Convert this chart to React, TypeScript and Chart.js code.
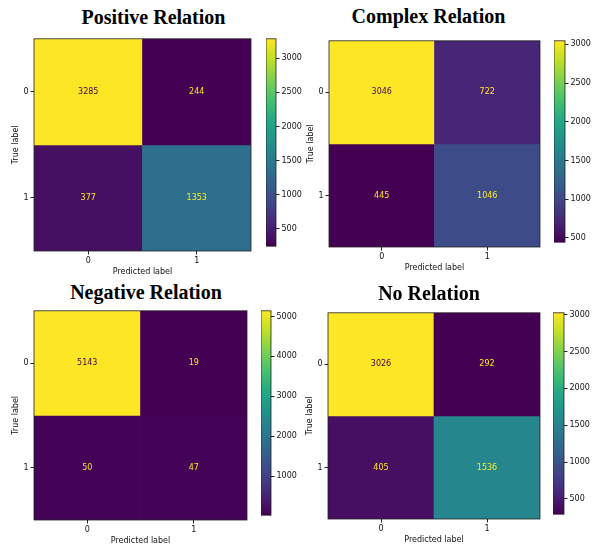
import React, { useEffect, useRef } from 'react';
import { Chart, registerables } from 'chart.js';

Chart.register(...registerables);

// ---------- data ----------
const PRED_LABELS = ['0', '1'];
const TRUE_LABELS = ['0', '1'];
const TITLES = ['Positive Relation', 'Complex Relation', 'Negative Relation', 'No Relation'];
const POSITIVE = [[3285, 244], [377, 1353]];
const COMPLEX = [[3046, 722], [445, 1046]];
const NEGATIVE = [[5143, 19], [50, 47]];
const NO_RELATION = [[3026, 292], [405, 1536]];
const TICKS_POSITIVE = [500, 1000, 1500, 2000, 2500, 3000];
const TICKS_COMPLEX = [500, 1000, 1500, 2000, 2500, 3000];
const TICKS_NEGATIVE = [1000, 2000, 3000, 4000, 5000];
const TICKS_NO_RELATION = [500, 1000, 1500, 2000, 2500, 3000];

// ---------- styles / layout ----------
const VIRIDIS = ['#440154', '#482475', '#414487', '#355f8d', '#2a788e', '#21918c', '#22a884', '#44bf70', '#7ad151', '#bddf26', '#fde725'];
const FONT = { family: 'DejaVu Sans', size: 8 };
const INK = '#111';
const LAYOUT = [
  { L: 34, R: 251, T: 34, B: 251, cbL: 266, cbR: 276, titleX: 153.5, titleBase: 24 },
  { L: 329, R: 540, T: 36, B: 247, cbL: 554, cbR: 565, titleX: 428.5, titleBase: 23 },
  { L: 34, R: 247, T: 306, B: 520, cbL: 261, cbR: 271, titleX: 146, titleBase: 299 },
  { L: 328, R: 540, T: 308, B: 519, cbL: 553, cbR: 564, titleX: 429, titleBase: 300 },
];
const Y_AXIS_W = 30;
const X_AXIS_H = 26;
const CB_AXIS_W = 40;

function hexToRgb(h: string) {
  return [parseInt(h.slice(1, 3), 16), parseInt(h.slice(3, 5), 16), parseInt(h.slice(5, 7), 16)];
}
function viridis(t: number) {
  const tt = Math.max(0, Math.min(1, t)) * (VIRIDIS.length - 1);
  const i = Math.min(Math.floor(tt), VIRIDIS.length - 2);
  const f = tt - i;
  const a = hexToRgb(VIRIDIS[i]);
  const b = hexToRgb(VIRIDIS[i + 1]);
  const c = a.map((v, k) => Math.round(v + (b[k] - v) * f));
  return `rgb(${c[0]},${c[1]},${c[2]})`;
}

const framePlugin = {
  id: 'frame',
  afterDatasetsDraw(chart: any) {
    const { ctx, chartArea: a } = chart;
    ctx.save();
    ctx.strokeStyle = '#222';
    ctx.lineWidth = 0.8;
    ctx.strokeRect(a.left, a.top, a.right - a.left, a.bottom - a.top);
    ctx.restore();
  },
};

function Panel({ matrix, ticks, title, lay }: any) {
  const mRef = useRef<HTMLCanvasElement>(null);
  const cRef = useRef<HTMLCanvasElement>(null);
  const flat = matrix.flat();
  const min = Math.min(...flat);
  const max = Math.max(...flat);

  useEffect(() => {
    const thresh = (min + max) / 2;
    const cellText = {
      id: 'cellText',
      afterDatasetsDraw(chart: any) {
        const { ctx } = chart;
        const xs = chart.scales.x;
        const ys = chart.scales.y;
        ctx.save();
        ctx.font = `${FONT.size}px "${FONT.family}"`;
        ctx.textAlign = 'center';
        ctx.textBaseline = 'middle';
        matrix.forEach((row: number[], i: number) => {
          row.forEach((v: number, j: number) => {
            ctx.fillStyle = v > thresh ? VIRIDIS[0] : VIRIDIS[VIRIDIS.length - 1];
            ctx.fillText(String(v), xs.getPixelForValue(j), ys.getPixelForValue(i + 0.5));
          });
        });
        ctx.restore();
      },
    };
    const m = new Chart(mRef.current!, {
      type: 'bar',
      data: {
        labels: PRED_LABELS,
        datasets: matrix.map((row: number[], i: number) => ({
          data: row.map(() => [i, i + 1]),
          backgroundColor: row.map((v) => viridis((v - min) / (max - min))),
          borderWidth: 0,
          grouped: false,
          barPercentage: 1,
          categoryPercentage: 1,
        })),
      },
      options: {
        animation: false,
        responsive: false,
        events: [],
        layout: { padding: { top: 2, right: 2, left: 0, bottom: 0 } },
        plugins: { legend: { display: false }, tooltip: { enabled: false }, title: { display: false } },
        scales: {
          x: {
            type: 'category',
            offset: true,
            grid: { offset: false, drawOnChartArea: false, drawTicks: true, tickLength: 3.5, color: '#222' },
            border: { display: false },
            ticks: { font: FONT, color: INK, padding: 2, maxRotation: 0 },
            title: { display: true, text: 'Predicted label', font: FONT, color: INK, padding: { top: 0, bottom: 0.7 } },
            afterFit: (s: any) => { s.height = X_AXIS_H; },
          },
          y: {
            type: 'linear',
            min: 0,
            max: TRUE_LABELS.length,
            reverse: true,
            afterBuildTicks: (s: any) => { s.ticks = TRUE_LABELS.map((_, i) => ({ value: i + 0.5 })); },
            grid: { drawOnChartArea: false, drawTicks: true, tickLength: 3.5, color: '#222' },
            border: { display: false },
            ticks: { font: FONT, color: INK, padding: 2, callback: (_v: any, idx: number) => TRUE_LABELS[idx] },
            title: { display: true, text: 'True label', font: FONT, color: INK, padding: { top: 7.2, bottom: 0 } },
            afterFit: (s: any) => { s.width = Y_AXIS_W; },
          },
        },
      } as any,
      plugins: [cellText, framePlugin],
    });

    const c = new Chart(cRef.current!, {
      type: 'bar',
      data: {
        labels: [''],
        datasets: [{
          data: [[min, max]],
          backgroundColor: (ctx: any) => {
            const chart = ctx.chart;
            const a = chart.chartArea;
            if (!a) return VIRIDIS[0];
            const g = chart.ctx.createLinearGradient(0, a.bottom, 0, a.top);
            VIRIDIS.forEach((col, k) => g.addColorStop(k / (VIRIDIS.length - 1), col));
            return g;
          },
          borderWidth: 0,
          barPercentage: 1,
          categoryPercentage: 1,
        }],
      },
      options: {
        animation: false,
        responsive: false,
        events: [],
        layout: { padding: { top: 2, bottom: 2, left: 0, right: 0 } },
        plugins: { legend: { display: false }, tooltip: { enabled: false } },
        scales: {
          x: { display: false },
          y: {
            position: 'right',
            min,
            max,
            afterBuildTicks: (s: any) => { s.ticks = ticks.map((v: number) => ({ value: v })); },
            grid: { drawOnChartArea: false, drawTicks: true, tickLength: 3.5, color: '#222' },
            border: { display: false },
            ticks: { font: FONT, color: INK, padding: 2, callback: (v: any) => String(v) },
            afterFit: (s: any) => { s.width = CB_AXIS_W; },
          },
        },
      } as any,
      plugins: [framePlugin],
    });
    return () => { m.destroy(); c.destroy(); };
  }, []);

  const mw = lay.R - lay.L + Y_AXIS_W + 2;
  const mh = lay.B - lay.T + 2 + X_AXIS_H;
  const cw = lay.cbR - lay.cbL + CB_AXIS_W;
  const ch = lay.B - lay.T + 4;
  return (
    <>
      <div style={{
        position: 'absolute', left: lay.titleX - 150, width: 300, top: lay.titleBase - 16.75,
        textAlign: 'center', fontFamily: '"Liberation Serif", serif', fontWeight: 'bold', fontSize: 20, lineHeight: '20px', color: '#000',
      }}>{title}</div>
      <canvas ref={mRef} width={mw} height={mh} style={{ position: 'absolute', left: lay.L - Y_AXIS_W, top: lay.T - 2, width: mw, height: mh }} />
      <canvas ref={cRef} width={cw} height={ch} style={{ position: 'absolute', left: lay.cbL, top: lay.T - 2, width: cw, height: ch }} />
    </>
  );
}

export default function App() {
  const mats = [POSITIVE, COMPLEX, NEGATIVE, NO_RELATION];
  const tks = [TICKS_POSITIVE, TICKS_COMPLEX, TICKS_NEGATIVE, TICKS_NO_RELATION];
  return (
    <div style={{ position: 'absolute', left: 0, top: 0, width: 592, height: 544, background: '#fff', overflow: 'hidden' }}>
      {mats.map((m, i) => (
        <Panel key={i} matrix={m} ticks={tks[i]} title={TITLES[i]} lay={LAYOUT[i]} />
      ))}
    </div>
  );
}
